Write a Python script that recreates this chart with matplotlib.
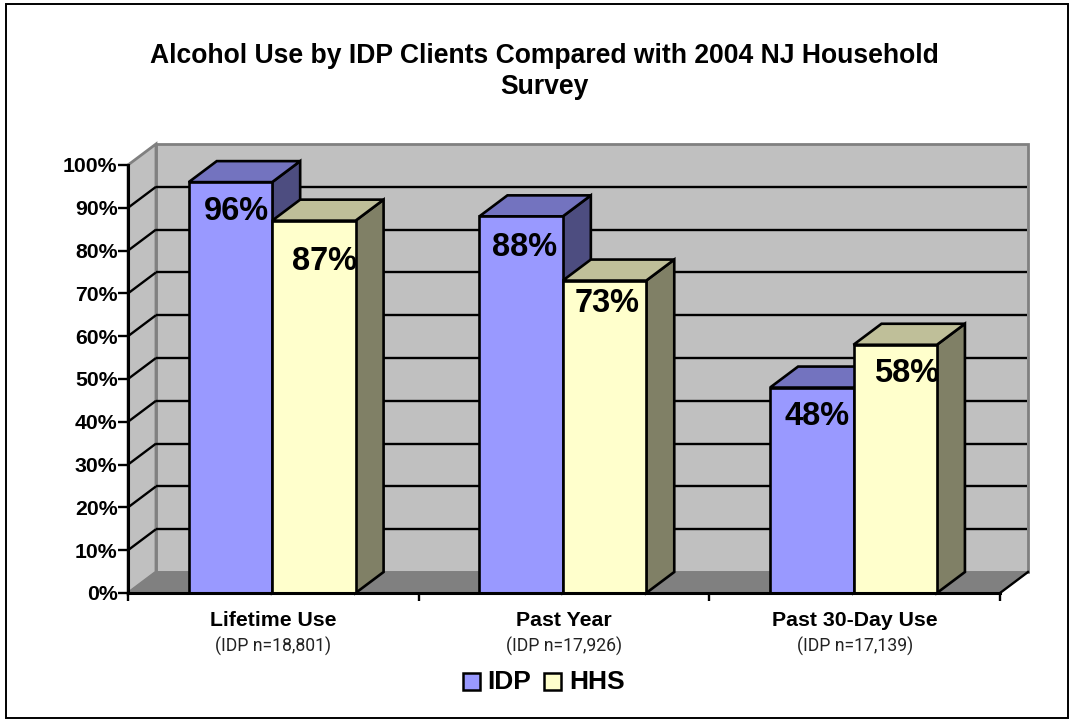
import matplotlib
matplotlib.use("Agg")
import matplotlib.pyplot as plt
from matplotlib.patches import Polygon, Rectangle

categories = ["Lifetime Use", "Past Year", "Past 30-Day Use"]
sample_labels = ["(IDP n=18,801)", "(IDP n=17,926)", "(IDP n=17,139)"]
idp_values = [96, 88, 48]
hhs_values = [87, 73, 58]
idp_labels = ["96%", "88%", "48%"]
hhs_labels = ["87%", "73%", "58%"]
y_ticks = list(range(0, 101, 10))
title = "Alcohol Use by IDP Clients Compared with 2004 NJ Household\nSurvey"

# hand placed data-label offsets (pixels from the top centre of each bar)
idp_label_offsets = [(6, -29), (3, -31), (5, -29)]
hhs_label_offsets = [(11, -41), (3, -23), (11, -29)]

W, H = 1075, 719
L, R, T, B = 128, 1000, 165, 593
DX_PX, DY_PX = 28, 21

plt.rcParams['font.family'] = ['Liberation Sans', 'DejaVu Sans']
fig = plt.figure(figsize=(W / 100, H / 100), dpi=100, facecolor='white')
fig.add_artist(Rectangle((6 / W, 1 - 717.5 / H), 1062 / W, 714 / H, transform=fig.transFigure,
                         fill=False, edgecolor='black', lw=1.4))
ax = fig.add_axes([L / W, 1 - B / H, (R - L) / W, (B - T) / H])
ax.set_xlim(0, 3)
ax.set_ylim(0, 100)
ax.patch.set_visible(False)
for s in ax.spines.values():
    s.set_visible(False)

dx = DX_PX / (R - L) * 3
dy = DY_PX / (B - T) * 100
EDGE = dict(edgecolor='black', lw=1.9, joinstyle='miter', clip_on=False)
WALL = '#c0c0c0'
GREY = '#808080'

# walls and floor
ax.add_patch(Polygon([(dx, dy), (3 + dx, dy), (3 + dx, 100 + dy), (dx, 100 + dy)],
                     facecolor=WALL, edgecolor=GREY, lw=2, clip_on=False, zorder=1))
ax.add_patch(Polygon([(0, 0), (dx, dy), (dx, 100 + dy), (0, 100)],
                     facecolor=WALL, edgecolor=GREY, lw=2, clip_on=False, zorder=1))
ax.add_patch(Polygon([(0, 0), (3, 0), (3 + dx, dy), (dx, dy)],
                     facecolor=GREY, edgecolor=GREY, lw=1, clip_on=False, zorder=1))
for v in y_ticks[1:-1]:
    ax.plot([dx, 3 + dx - 0.004], [v + dy, v + dy], color='black', lw=1.7, clip_on=False, zorder=2,
            solid_capstyle='butt')
for v in y_ticks[1:-1]:
    ax.plot([0, dx], [v, v + dy], color='black', lw=1.7, clip_on=False, zorder=2,
            solid_capstyle='butt')


def bar3d(x0, x1, v, front, top, side, z):
    ax.add_patch(Polygon([(x1, 0), (x1 + dx, dy), (x1 + dx, v + dy), (x1, v)],
                         facecolor=side, zorder=z, **EDGE))
    ax.add_patch(Polygon([(x0, v), (x1, v), (x1 + dx, v + dy), (x0 + dx, v + dy)],
                         facecolor=top, zorder=z, **EDGE))
    ax.add_patch(Polygon([(x0, 0), (x1, 0), (x1, v), (x0, v)],
                         facecolor=front, zorder=z + 0.1, **EDGE))


B0, BM, B1 = 0.209, 0.496, 0.783
for i in range(3):
    bar3d(i + B0, i + BM, idp_values[i], '#9999ff', '#7373bf', '#4d4d80', 3 + i)
    bar3d(i + BM, i + B1, hhs_values[i], '#ffffcc', '#bfbf99', '#808066', 3.5 + i)
    ax.annotate(idp_labels[i], (i + (B0 + BM) / 2, idp_values[i]), xytext=idp_label_offsets[i],
                textcoords='offset pixels', ha='center', va='center', fontsize=23.5,
                fontweight='bold', zorder=10, annotation_clip=False)
    ax.annotate(hhs_labels[i], (i + (BM + B1) / 2, hhs_values[i]), xytext=hhs_label_offsets[i],
                textcoords='offset pixels', ha='center', va='center', fontsize=23.5,
                fontweight='bold', zorder=10, annotation_clip=False)

# axes lines and ticks
ax.plot([0, 3], [0, 0], color='black', lw=2.2, clip_on=False, zorder=9, solid_capstyle='projecting')
ax.plot([0, 0], [0, 100], color='black', lw=2.2, clip_on=False, zorder=9)
ax.plot([3, 3 + dx], [0, dy], color='black', lw=1.7, clip_on=False, zorder=2)
ax.set_yticks(y_ticks)
ax.set_yticklabels([f"{v}%" for v in y_ticks], fontsize=15.3, fontweight='bold')
ax.tick_params(axis='y', length=7, width=1.7, pad=0.5, left=True)
ax.set_xticks([0, 1, 2, 3])
ax.set_xticklabels([])
ax.tick_params(axis='x', length=6, width=1.7)

for i, (c, s) in enumerate(zip(categories, sample_labels)):
    ax.annotate(c, (i + 0.5, 0), xytext=(0, -27.5), textcoords='offset pixels', ha='center',
                va='center', fontsize=15.3, fontweight='bold', annotation_clip=False)
    ax.annotate(s, (i + 0.5, 0), xytext=(0, -53), textcoords='offset pixels', ha='center',
                va='center', fontsize=12.7, family=['Roboto'],
                color='#222222', annotation_clip=False)

fig.text(544 / W, 1 - 71.5 / H, title, ha='center', va='center', fontsize=19.1,
         fontweight='bold', linespacing=1.28)

# legend
for px, col, name, tx in [(463, '#9999ff', 'IDP', 487), (544, '#ffffcc', 'HHS', 569)]:
    fig.add_artist(Rectangle((px / W, 1 - 690 / H), 17 / W, 17 / H, transform=fig.transFigure,
                             facecolor=col, edgecolor='black', lw=1.8))
    fig.text(tx / W, 1 - 682 / H, name, ha='left', va='center', fontsize=19, fontweight='bold')

fig.savefig("out.png", dpi=100, facecolor='white')
